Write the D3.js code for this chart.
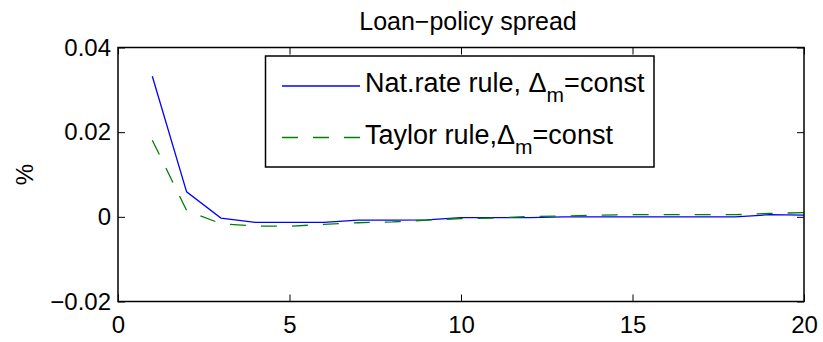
<!DOCTYPE html>
<html>
<head>
<meta charset="utf-8">
<script src="https://d3js.org/d3.v7.min.js"></script>
<style>
  body { margin: 0; background: #fff; }
  svg { display: block; font-family: "Liberation Sans", Arial, sans-serif; }
</style>
</head>
<body>
<svg class="chart" width="823" height="342"></svg>
<script>
var periods = [1, 2, 3, 4, 5, 6, 7, 8, 9, 10, 11, 12, 13, 14, 15, 16, 17, 18, 19, 20];

var natRate = [0.0332, 0.0059, -0.0003, -0.0013, -0.0013, -0.0013, -0.0008, -0.0008, -0.0007, -0.0002,
               -0.0002, -0.0002, 0, 0, 0, 0, 0, 0, 0.0005, 0.0004];

var taylor = [0.0181, 0.0015, -0.0016, -0.0022, -0.0022, -0.0018, -0.0014, -0.0012, -0.0008, -0.0004,
              -0.0003, 0.0001, 0.0002, 0.0004, 0.0005, 0.0005, 0.0005, 0.0005, 0.0008, 0.001];

var xTicks = [0, 5, 10, 15, 20];
var yTicks = [-0.02, 0, 0.02, 0.04];

var titleText = "Loan\u2212policy spread";
var yLabel = "%";

// legend labels: [before subscript, subscript, after]
var legendLabels = [
    ["Nat.rate rule, \u0394", "m", "=const"],
    ["Taylor rule,\u0394", "m", "=const"]
];

var box = { left: 118, right: 804, top: 47.5, bottom: 301.5 };

var x = d3.scaleLinear().domain([0, 20]).range([box.left, box.right]);
var y = d3.scaleLinear().domain([-0.02, 0.04]).range([box.bottom, box.top]);

var svg = d3.select("svg.chart");

var series = [
    { values: natRate, color: "#0000ff", dash: null },
    { values: taylor, color: "#008000", dash: "16,15" }
];

var line = d3.line()
    .x(function (d) { return x(d[0]); })
    .y(function (d) { return y(d[1]); });

series.forEach(function (s) {
    svg.append("path")
       .datum(periods.map(function (p, i) { return [p, s.values[i]]; }))
       .attr("d", line)
       .attr("fill", "none")
       .attr("stroke", s.color)
       .attr("stroke-width", 1.3)
       .attr("stroke-dasharray", s.dash);
});

var yFmt = function (d) { return d === 0 ? "0" : d3.format(".2f")(d); };

function styleAxis(g) {
    g.select(".domain").remove();
    g.selectAll(".tick line").attr("stroke", "#000").attr("stroke-width", 1);
    g.selectAll(".tick text").attr("fill", "#000").style("font-size", "24px");
}

svg.append("g")
   .attr("transform", "translate(0," + box.bottom + ")")
   .call(d3.axisBottom(x).tickValues(xTicks).tickSize(-7).tickPadding(14))
   .call(styleAxis);

svg.append("g")
   .attr("transform", "translate(0," + box.top + ")")
   .call(d3.axisTop(x).tickValues(xTicks).tickSize(-7).tickFormat(""))
   .call(styleAxis);

svg.append("g")
   .attr("transform", "translate(" + box.left + ",0)")
   .call(d3.axisLeft(y).tickValues(yTicks).tickSize(-7).tickPadding(7).tickFormat(yFmt))
   .call(styleAxis);

svg.append("g")
   .attr("transform", "translate(" + box.right + ",0)")
   .call(d3.axisRight(y).tickValues(yTicks).tickSize(-7).tickFormat(""))
   .call(styleAxis);

svg.append("rect")
   .attr("x", box.left)
   .attr("y", box.top)
   .attr("width", box.right - box.left)
   .attr("height", box.bottom - box.top)
   .attr("fill", "none")
   .attr("stroke", "#000")
   .attr("stroke-width", 1.5);

svg.append("text")
   .attr("x", 468)
   .attr("y", 30)
   .attr("text-anchor", "middle")
   .style("font-size", "25px")
   .text(titleText);

svg.append("text")
   .attr("transform", "translate(33," + ((box.top + box.bottom) / 2) + ") rotate(-90)")
   .attr("text-anchor", "middle")
   .style("font-size", "24px")
   .text(yLabel);

// legend
var leg = svg.append("g");
leg.append("rect")
   .attr("x", 265.5)
   .attr("y", 56)
   .attr("width", 388.5)
   .attr("height", 111)
   .attr("fill", "#fff")
   .attr("stroke", "#000")
   .attr("stroke-width", 1.5);

var rowY = [86, 137.5];

series.forEach(function (s, i) {
    leg.append("line")
       .attr("x1", 282).attr("x2", 360)
       .attr("y1", rowY[i]).attr("y2", rowY[i])
       .attr("stroke", s.color)
       .attr("stroke-width", 1.3)
       .attr("stroke-dasharray", s.dash);

    var t = leg.append("text")
       .attr("x", 365)
       .attr("y", rowY[i] + 6)
       .style("font-size", "27px");
    t.append("tspan").text(legendLabels[i][0]);
    t.append("tspan").attr("dy", 10).style("font-size", "21px").text(legendLabels[i][1]);
    t.append("tspan").attr("dy", -10).text(legendLabels[i][2]);
});
</script>
</body>
</html>
